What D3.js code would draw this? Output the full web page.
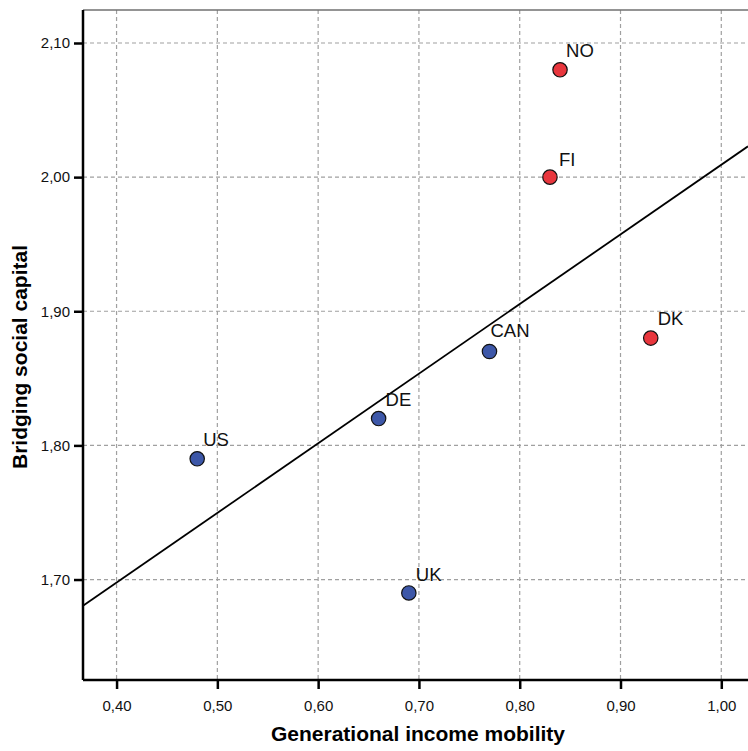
<!DOCTYPE html>
<html>
<head>
<meta charset="utf-8">
<script src="https://cdn.jsdelivr.net/npm/d3@7"></script>
<style>
  html, body { margin: 0; padding: 0; background: #fff; }
  svg { display: block; }
  text { font-family: "Liberation Sans", Arial, sans-serif; }
</style>
</head>
<body>
<div id="chart"></div>
<script>
// ---- Data ----
const countries = ["NO", "FI", "DK", "CAN", "DE", "US", "UK"];
const mobility  = [0.84, 0.83, 0.93, 0.77, 0.66, 0.48, 0.69];
const bridging  = [2.08, 2.00, 1.88, 1.87, 1.82, 1.79, 1.69];
const groups    = ["nordic", "nordic", "nordic", "other", "other", "other", "other"];
const xTicks = [0.40, 0.50, 0.60, 0.70, 0.80, 0.90, 1.00];
const yTicks = [1.70, 1.80, 1.90, 2.00, 2.10];
const xTickLabels = ["0,40", "0,50", "0,60", "0,70", "0,80", "0,90", "1,00"];
const yTickLabels = ["1,70", "1,80", "1,90", "2,00", "2,10"];

(function () {
const W = 748, H = 751;
const pL = 83, pT = 10, pR = 748, pB = 680;

// label placement (layout only)
const labelShift = { NO: [6, -13], FI: [9, -11], DK: [7, -13], CAN: [1, -15], DE: [7, -13], US: [6, -13], UK: [7, -12] };

const x = d3.scaleLinear().domain([0.3667, 1.0265]).range([pL, pR]);
const y = d3.scaleLinear().domain([1.6251, 2.1246]).range([pB, pT]);

const color = d3.scaleOrdinal().domain(["nordic", "other"]).range(["#e8363d", "#3d57a8"]);

const svg = d3.select("#chart").append("svg").attr("width", W).attr("height", H);

// grid
const grid = svg.append("g").attr("stroke", "#a0a0a0").attr("stroke-width", 1.2).attr("stroke-dasharray", "4,3");
grid.selectAll("line.v").data(xTicks).enter().append("line")
  .attr("x1", d => x(d)).attr("x2", d => x(d)).attr("y1", pT).attr("y2", pB);
grid.selectAll("line.h").data(yTicks).enter().append("line")
  .attr("y1", d => y(d)).attr("y2", d => y(d)).attr("x1", pL).attr("x2", pR);

// top border
svg.append("line").attr("x1", pL).attr("x2", pR).attr("y1", pT).attr("y2", pT)
  .attr("stroke", "#707070").attr("stroke-width", 1.5);

// regression line
const n = mobility.length;
const mx = d3.mean(mobility), my = d3.mean(bridging);
let sxy = 0, sxx = 0;
for (let i = 0; i < n; i++) { sxy += (mobility[i]-mx)*(bridging[i]-my); sxx += (mobility[i]-mx)**2; }
const slope = sxy / sxx, intercept = my - slope * mx;
const [x0, x1] = x.domain();
svg.append("line")
  .attr("x1", x(x0)).attr("y1", y(intercept + slope * x0))
  .attr("x2", x(x1)).attr("y2", y(intercept + slope * x1))
  .attr("stroke", "#000").attr("stroke-width", 1.8);

// axes
const xAxis = d3.axisBottom(x).tickValues(xTicks).tickFormat((d, i) => xTickLabels[i]).tickSize(9).tickPadding(11);
const yAxis = d3.axisLeft(y).tickValues(yTicks).tickFormat((d, i) => yTickLabels[i]).tickSize(9).tickPadding(4);

const gx = svg.append("g").attr("transform", `translate(0,${pB})`).call(xAxis);
const gy = svg.append("g").attr("transform", `translate(${pL},0)`).call(yAxis);
[gx, gy].forEach(g => {
  g.select(".domain").attr("stroke", "#000").attr("stroke-width", 2.5);
  g.selectAll(".tick line").attr("stroke", "#000").attr("stroke-width", 2.5);
  g.selectAll(".tick text").attr("font-size", 15).attr("fill", "#111")
    .attr("font-family", "'Liberation Sans', Arial, sans-serif");
});
gx.select(".domain").attr("d", `M${pL},0H${pR}`);
gy.select(".domain").attr("d", `M0,${pB}V${pT}`);

// points
const pts = countries.map((c, i) => ({c, x: mobility[i], y: bridging[i], g: groups[i]}));
svg.append("g").selectAll("circle").data(pts).enter().append("circle")
  .attr("cx", d => x(d.x)).attr("cy", d => y(d.y)).attr("r", 7.2)
  .attr("fill", d => color(d.g)).attr("stroke", "#111").attr("stroke-width", 1.2);

svg.append("g").selectAll("text").data(pts).enter().append("text")
  .attr("x", d => x(d.x) + labelShift[d.c][0]).attr("y", d => y(d.y) + labelShift[d.c][1])
  .attr("font-size", 18.5).attr("fill", "#111").text(d => d.c);

// axis titles
svg.append("text").attr("x", 418).attr("y", 741)
  .attr("text-anchor", "middle").attr("font-size", 21).attr("font-weight", "bold")
  .text("Generational income mobility");
svg.append("text").attr("transform", `translate(27,357) rotate(-90)`)
  .attr("text-anchor", "middle").attr("font-size", 21).attr("font-weight", "bold")
  .text("Bridging social capital");
})();
</script>
</body>
</html>
